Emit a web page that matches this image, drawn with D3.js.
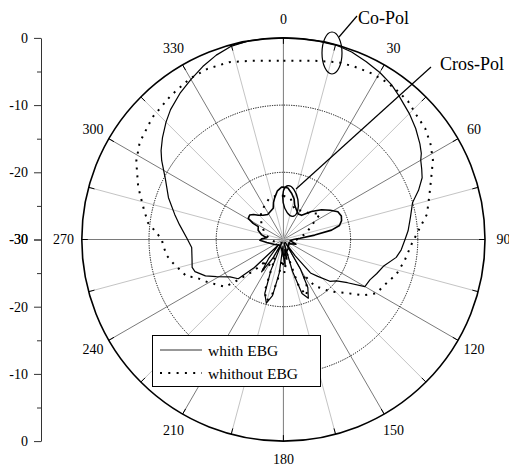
<!DOCTYPE html>
<html><head><meta charset="utf-8">
<script src="https://cdn.jsdelivr.net/npm/d3@7"></script>
<style>
html,body{margin:0;padding:0;background:#fff;}
svg text{font-family:"Liberation Serif","Times New Roman",serif;fill:#000;}
</style></head>
<body><svg id="chart" width="509" height="466"></svg>
<script>
// ---------- data ----------
const angleTicks = [0,30,60,90,120,150,180,210,240,270,300,330];
const radialTicks = [-30,-20,-10,0];
const radialMinor = [-25,-15,-5];
const gridCircles = [-20,-10];
const legendLabels = ["whith EBG","whithout EBG"];

// [angle deg, dB]
const coPolWith = [
[0,0],[5,0],[10,0],[15,0],[20,-0.3],[25,-0.8],[30,-1.3],[35,-1.9],[39,-2.6],[45,-3.5],[50,-4.3],[55,-5.2],[58,-5.8],[60,-6.4],[63,-6.9],[66,-7.4],[70,-8.6],[74,-10.0],[80,-10.8],[86,-11.4],[90,-11.9],[95,-12.4],[99,-13.0],[105,-14.6],[110,-15.2],[115,-15.8],[120,-16.0],[124,-18.5],[128,-20.0],[132,-20.7],[137,-22.5],[141,-23.6],[144,-27],[147,-29.5],[150,-25],[153,-22],[157,-20.5],[161,-21.5],[164,-25],[167,-29.5],[170,-27],[173,-28.5],[176,-26],[180,-27.5],[184,-29],[187,-25],[191,-21.5],[195,-20.2],[199,-21.5],[202,-25],[205,-29.5],[209,-27],[214,-24.2],[218,-26.5],[222,-29],[226,-24],[229,-21.1],[235,-20.3],[241,-18.6],[245,-17.2],[250,-16.0],[253,-15.8],[258,-16.1],[265,-16.3],[271,-15.6],[278,-14.4],[283,-13.4],[290,-11.8],[297,-10.3],[303,-8.4],[306,-7.5],[310,-6.5],[315,-5.3],[319,-4.4],[325,-3.3],[330,-2.5],[335,-1.6],[340,-0.8],[345,-0.2],[350,0],[355,0]
];
const coPolWithout = [
[0,-3.4],[10,-3.0],[17,-2.4],[22,-2.2],[28,-2.0],[33,-2.0],[37,-2.1],[42,-2.3],[47,-2.9],[52,-3.2],[57,-3.9],[62,-4.8],[66,-5.85],[72,-7.1],[80,-8.3],[85,-9.6],[92,-10.9],[100,-11.7],[107,-12.4],[115,-13.6],[120,-14.0],[125,-15.5],[130,-17.6],[138,-19.6],[142,-20.8],[146,-21.6],[150,-24],[154,-21.8],[158,-21],[162,-23],[166,-28],[172,-27],[178,-25],[183,-27],[188,-24],[192,-21.2],[196,-20.5],[200,-22],[205,-27],[210,-25],[215,-24.5],[219,-26],[223,-23.8],[226,-22.4],[229,-20.4],[231,-18.8],[236,-18.0],[241,-17.0],[247,-15.7],[249,-14.6],[254,-13.9],[258,-13.2],[262,-12.5],[267,-12.1],[270,-11.9],[274,-10.8],[277,-9.7],[283,-8.6],[290,-7.0],[298,-5.2],[304,-4.2],[313,-3.35],[322,-2.8],[330,-2.3],[336,-2.2],[343,-2.4],[350,-3.0]
];
const crossPolWith = [
[0,-22.2],[5,-22.3],[10,-23.0],[15,-23.8],[18,-24.6],[24,-25.2],[30,-25.6],[37,-25.5],[45,-24.1],[52,-22.8],[58,-21.8],[63,-20.9],[68,-20.7],[72,-20.9],[76,-21.4],[79,-22.7],[82,-25.3],[86,-27.5],[90,-28.5],[100,-29],[110,-28],[130,-29],[150,-28.5],[170,-28],[180,-27.5],[190,-28.5],[210,-29],[240,-28.5],[260,-27.5],[268,-26.5],[272,-26.8],[276,-27.5],[282,-26.7],[290,-26],[297,-25.8],[298,-24.9],[301,-23.9],[306,-23.8],[310,-24.2],[314,-24.8],[320,-25.3],[328,-25.6],[335,-25.4],[342,-25.1],[345,-24.3],[348,-23.7],[353,-22.7],[358,-22.2]
];
const crossPolWithout = [
[0,-23.5],[10,-23.8],[20,-25.2],[30,-25],[45,-24.5],[55,-23.3],[65,-25.5],[75,-26.5],[90,-28],[120,-29],[180,-29.5],[240,-29],[270,-28],[290,-27],[305,-26],[320,-24.8],[330,-24.3],[340,-23.6],[350,-23.4]
];

// ---------- layout ----------
const cx = 283.4, cy = 239.5, R = 201.6;
const svg = d3.select("#chart");
const r = d3.scaleLinear().domain([-30,0]).range([0,R]).clamp(true);
const rad = d => d*Math.PI/180;
const g = svg.append("g").attr("transform",`translate(${cx},${cy})`);

// spokes every 15 deg
const spokes = d3.range(0,360,15);
g.selectAll("line.spoke").data(spokes).join("line")
  .attr("x1",0).attr("y1",0)
  .attr("x2",d=>R*Math.sin(rad(d))).attr("y2",d=>-R*Math.cos(rad(d)))
  .attr("stroke",d=> d%30===0 ? "#7a7a7a" : "#c4c4c4").attr("stroke-width",1);
// ticks on outer circle
g.selectAll("line.tk").data(spokes).join("line")
  .attr("x1",d=>(R-6)*Math.sin(rad(d))).attr("y1",d=>-(R-6)*Math.cos(rad(d)))
  .attr("x2",d=>R*Math.sin(rad(d))).attr("y2",d=>-R*Math.cos(rad(d)))
  .attr("stroke","#000").attr("stroke-width",1);

// grid circles
g.selectAll("circle.grid").data(gridCircles).join("circle")
  .attr("r",d=>r(d)).attr("fill","none").attr("stroke","#000")
  .attr("stroke-width",1).attr("stroke-dasharray","1.2,1.2");
g.append("circle").attr("r",R).attr("fill","none").attr("stroke","#000").attr("stroke-width",1.6);

// angle labels
g.selectAll("text.ang").data(angleTicks).join("text")
  .attr("x",d=>220*Math.sin(rad(d))).attr("y",d=>-220*Math.cos(rad(d)))
  .attr("text-anchor","middle").attr("dominant-baseline","central")
  .attr("font-size",14).text(d=>d);

// series
const line = d3.lineRadial().angle(d=>rad(d[0])).radius(d=>r(d[1])).curve(d3.curveLinearClosed);
g.append("path").datum(coPolWithout).attr("d",line).attr("fill","none")
  .attr("stroke","#000").attr("stroke-width",2).attr("stroke-dasharray","2,6");
g.append("path").datum(crossPolWithout).attr("d",line).attr("fill","none")
  .attr("stroke","#000").attr("stroke-width",2).attr("stroke-dasharray","2,6");
g.append("path").datum(coPolWith).attr("d",line).attr("fill","none")
  .attr("stroke","#000").attr("stroke-width",1.2).attr("stroke-linejoin","round");
g.append("path").datum(crossPolWith).attr("d",line).attr("fill","none")
  .attr("stroke","#000").attr("stroke-width",1.6).attr("stroke-linejoin","round");

// left radial axis (mirrored)
const yTop = d3.scaleLinear().domain([-30,0]).range([cy, cy-R]);
const yBot = d3.scaleLinear().domain([-30,0]).range([cy, cy+R]);
const axX = 41;
[yTop,yBot].forEach(sc=>{
  const ax = svg.append("g").attr("transform",`translate(${axX},0)`);
  ax.call(d3.axisLeft(sc).tickValues(radialTicks).tickSize(7).tickSizeOuter(0).tickPadding(6).tickFormat(d=>String(d)));
  const mn = svg.append("g").attr("transform",`translate(${axX},0)`);
  mn.call(d3.axisLeft(sc).tickValues(radialMinor).tickSize(4).tickSizeOuter(0).tickFormat(""));
  mn.select(".domain").remove();
  [ax,mn].forEach(a=>{
    a.selectAll("path,line").attr("stroke","#333");
    a.selectAll("text").attr("font-size",14).attr("font-family","Liberation Serif");
  });
});

// annotations
svg.append("ellipse").attr("cx",332).attr("cy",53).attr("rx",10).attr("ry",21)
  .attr("fill","none").attr("stroke","#000").attr("stroke-width",1.2);
svg.append("line").attr("x1",339).attr("y1",37).attr("x2",357).attr("y2",16)
  .attr("stroke","#000").attr("stroke-width",1.2);
svg.append("text").attr("x",358).attr("y",24).attr("font-size",18).text("Co-Pol");
svg.append("ellipse").attr("cx",290.5).attr("cy",201).attr("rx",7.5).attr("ry",15.5)
  .attr("transform","rotate(-10,290.5,201)")
  .attr("fill","none").attr("stroke","#000").attr("stroke-width",1.4);
svg.append("line").attr("x1",431).attr("y1",67).attr("x2",296).attr("y2",189)
  .attr("stroke","#000").attr("stroke-width",1.2);
svg.append("text").attr("x",440).attr("y",70).attr("font-size",18).text("Cros-Pol");

// legend
const lg = svg.append("g");
lg.append("rect").attr("x",152.5).attr("y",335.5).attr("width",168).attr("height",51)
  .attr("fill","#fff").attr("stroke","#000").attr("stroke-width",1);
lg.append("line").attr("x1",160).attr("x2",202).attr("y1",350).attr("y2",350)
  .attr("stroke","#333").attr("stroke-width",1.2);
lg.append("line").attr("x1",160).attr("x2",202).attr("y1",373).attr("y2",373)
  .attr("stroke","#000").attr("stroke-width",2).attr("stroke-dasharray","2,6.3");
lg.selectAll("text").data(legendLabels).join("text")
  .attr("x",208).attr("y",(d,i)=>356+i*23).attr("font-size",15.5).text(d=>d);
</script></body></html>
